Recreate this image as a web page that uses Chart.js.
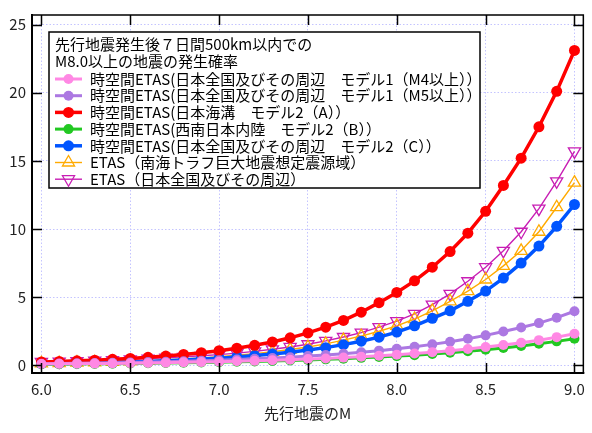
<!DOCTYPE html>
<html><head><meta charset="utf-8">
<script src="https://cdn.jsdelivr.net/npm/chart.js@4/dist/chart.umd.min.js"></script>
<style>html,body{margin:0;padding:0;background:#fff}</style>
</head><body>
<canvas id="c" width="592" height="433"></canvas>
<script>
const magnitudes = [6.0,6.1,6.2,6.3,6.4,6.5,6.6,6.7,6.8,6.9,7.0,7.1,7.2,7.3,7.4,7.5,7.6,7.7,7.8,7.9,8.0,8.1,8.2,8.3,8.4,8.5,8.6,8.7,8.8,8.9,9.0];
const xTicks = [6.0,6.5,7.0,7.5,8.0,8.5,9.0];
const yTicks = [0,5,10,15,20,25];
const xTitle = '先行地震のM';
const legendTitle = ['先行地震発生後７日間500km以内での','M8.0以上の地震の発生確率'];
const seriesNames = [
  '時空間ETAS(日本全国及びその周辺　モデル1（M4以上））',
  '時空間ETAS(日本全国及びその周辺　モデル1（M5以上））',
  '時空間ETAS(日本海溝　モデル2（A））',
  '時空間ETAS(西南日本内陸　モデル2（B））',
  '時空間ETAS(日本全国及びその周辺　モデル2（C））',
  'ETAS（南海トラフ巨大地震想定震源域）',
  'ETAS（日本全国及びその周辺）'
];
const modelM4 = [0.10,0.11,0.12,0.13,0.14,0.16,0.18,0.20,0.22,0.24,0.27,0.30,0.33,0.37,0.41,0.46,0.51,0.57,0.63,0.70,0.78,0.87,0.97,1.08,1.20,1.34,1.49,1.66,1.85,2.07,2.32];
const modelM5 = [0.12,0.14,0.15,0.17,0.19,0.21,0.24,0.27,0.30,0.34,0.38,0.43,0.48,0.54,0.60,0.68,0.76,0.85,0.96,1.08,1.22,1.37,1.54,1.73,1.95,2.20,2.48,2.78,3.10,3.50,3.97];
const modelA = [0.25,0.29,0.33,0.38,0.44,0.51,0.59,0.68,0.80,0.93,1.08,1.26,1.47,1.72,2.02,2.38,2.80,3.30,3.90,4.60,5.35,6.20,7.20,8.35,9.70,11.3,13.2,15.2,17.5,20.1,23.1];
const modelB = [0.08,0.09,0.10,0.11,0.12,0.14,0.15,0.17,0.19,0.21,0.23,0.26,0.29,0.32,0.36,0.40,0.44,0.49,0.55,0.61,0.68,0.75,0.84,0.93,1.04,1.15,1.28,1.42,1.58,1.76,1.95];
const modelC = [0.12,0.14,0.16,0.19,0.22,0.25,0.29,0.34,0.39,0.46,0.53,0.62,0.72,0.83,0.97,1.12,1.30,1.52,1.77,2.07,2.44,2.90,3.45,4.00,4.70,5.45,6.40,7.50,8.75,10.2,11.8];
const nankai = [0.15,0.17,0.20,0.23,0.26,0.30,0.35,0.41,0.47,0.55,0.64,0.74,0.86,1.00,1.16,1.35,1.58,1.85,2.15,2.50,2.90,3.40,4.00,4.70,5.45,6.30,7.30,8.40,9.80,11.6,13.4];
const etasJapan = [0.25,0.28,0.31,0.35,0.39,0.44,0.50,0.56,0.63,0.70,0.79,0.90,1.03,1.18,1.35,1.55,1.80,2.08,2.40,2.80,3.24,3.78,4.46,5.24,6.17,7.20,8.40,9.80,11.5,13.5,15.7];

const F = "'Noto Sans CJK JP','Noto Sans',sans-serif";
const pts = arr => magnitudes.map((m,i)=>({x:m,y:arr[i]}));

function circ(label, data, color, r, lw){
  return {label, data:pts(data), borderColor:color, backgroundColor:color, pointBackgroundColor:color,
    pointBorderColor:color, pointStyle:'circle', pointRadius:r, pointBorderWidth:0, borderWidth:lw, tension:0};
}
function tri(label, data, color, rot){
  return {label, data:pts(data), borderColor:color, backgroundColor:'rgba(0,0,0,0)', pointBackgroundColor:'rgba(0,0,0,0)',
    pointBorderColor:color, pointStyle:'triangle', pointRotation:rot, pointRadius:7, pointBorderWidth:1.3, borderWidth:1.4, tension:0};
}

const datasets = [
  circ(seriesNames[0], modelM4, '#ff88e4', 5, 3),
  circ(seriesNames[1], modelM5, '#ac78e2', 5, 3),
  circ(seriesNames[2], modelA, '#ff0000', 5.5, 3.5),
  circ(seriesNames[3], modelB, '#22c822', 5, 3),
  circ(seriesNames[4], modelC, '#0055ff', 5.5, 3.5),
  tri(seriesNames[5], nankai, '#ffaa00', 0),
  tri(seriesNames[6], etasJapan, '#c81eb4', 180)
];

function drawMarker(ctx, ds, x, y){
  const r = ds.pointRadius;
  ctx.beginPath();
  if (ds.pointStyle === 'circle') {
    ctx.arc(x, y, r, 0, Math.PI*2);
    ctx.fillStyle = ds.pointBackgroundColor; ctx.fill();
  } else {
    let rad = (ds.pointRotation||0)*Math.PI/180;
    ctx.moveTo(x + Math.sin(rad)*r, y - Math.cos(rad)*r);
    rad += Math.PI*2/3;
    ctx.lineTo(x + Math.sin(rad)*r, y - Math.cos(rad)*r);
    rad += Math.PI*2/3;
    ctx.lineTo(x + Math.sin(rad)*r, y - Math.cos(rad)*r);
    ctx.closePath();
    ctx.strokeStyle = ds.pointBorderColor; ctx.lineWidth = ds.pointBorderWidth; ctx.stroke();
  }
}

const framePlugin = {
  id:'frame',
  afterDatasetsDraw(chart){
    const ctx = chart.ctx, a = chart.chartArea, xs = chart.scales.x, ys = chart.scales.y;
    ctx.save();
    ctx.strokeStyle = '#000';
    ctx.lineWidth = 1.5;
    ctx.beginPath();
    xTicks.forEach(v=>{
      const px = Math.round(xs.getPixelForValue(v))+0.5;
      ctx.moveTo(px, a.bottom); ctx.lineTo(px, a.bottom-10);
      ctx.moveTo(px, a.top); ctx.lineTo(px, a.top+10);
    });
    yTicks.forEach(v=>{
      const py = Math.round(ys.getPixelForValue(v))+0.5;
      ctx.moveTo(a.left, py); ctx.lineTo(a.left+10, py);
      ctx.moveTo(a.right, py); ctx.lineTo(a.right-10, py);
    });
    ctx.stroke();
    ctx.lineWidth = 1.5;
    ctx.beginPath();
    ctx.moveTo(a.left, a.top); ctx.lineTo(a.right, a.top); ctx.lineTo(a.right, a.bottom);
    ctx.stroke();
    ctx.lineWidth = 2;
    ctx.beginPath();
    ctx.moveTo(a.left, a.top-1); ctx.lineTo(a.left, a.bottom); ctx.lineTo(a.right+1, a.bottom);
    ctx.stroke();

    // legend box
    const bx = 49, by = 32, bw = 431, bh = 156;
    ctx.fillStyle = '#fff';
    ctx.fillRect(bx, by, bw, bh);
    ctx.strokeStyle = '#000'; ctx.lineWidth = 1.5;
    ctx.strokeRect(bx, by, bw, bh);
    ctx.fillStyle = '#000';
    ctx.font = "15px " + F;
    ctx.textBaseline = 'middle';
    ctx.textAlign = 'left';
    ctx.fillText(legendTitle[0], 55, 44);
    ctx.fillText(legendTitle[1], 55, 61.5);
    chart.data.datasets.forEach((ds,i)=>{
      const yy = 79 + i*16.7;
      ctx.strokeStyle = ds.borderColor; ctx.lineWidth = ds.borderWidth;
      ctx.beginPath(); ctx.moveTo(55, yy); ctx.lineTo(82, yy); ctx.stroke();
      drawMarker(ctx, ds, 68.5, yy);
      ctx.fillStyle = '#000';
      ctx.fillText(ds.label, 90, yy);
    });
    ctx.restore();
  }
};

new Chart(document.getElementById('c'), {
  type:'line',
  data:{datasets},
  options:{
    responsive:false, animation:false, events:[],
    layout:{padding:{left:0,right:4,top:13,bottom:0}},
    plugins:{legend:{display:false}, tooltip:{enabled:false}},
    scales:{
      x:{type:'linear', min:5.947, max:9.05,
        afterBuildTicks: s=>{ s.ticks = xTicks.map(v=>({value:v})); },
        ticks:{callback:v=>Number(v).toFixed(1), font:{family:F,size:15}, color:'#222', padding:7, maxRotation:0, autoSkip:false},
        grid:{color:'#c4c4ff', lineWidth:1, drawTicks:false},
        border:{display:false, dash:[1.5,2]},
        title:{display:true, text:xTitle, font:{family:F,size:15}, color:'#222', padding:{top:0,bottom:11}},
        afterFit: s=>{ s.height = 60; }
      },
      y:{type:'linear', min:-0.56, max:25.7,
        afterBuildTicks: s=>{ s.ticks = yTicks.map(v=>({value:v})); },
        ticks:{callback:v=>String(v), font:{family:F,size:15}, color:'#222', padding:6, autoSkip:false},
        grid:{color:'#c4c4ff', lineWidth:1, drawTicks:false},
        border:{display:false, dash:[1.5,2]},
        afterFit: s=>{ s.width = 32; }
      }
    }
  },
  plugins:[framePlugin]
});
</script>
</body></html>
